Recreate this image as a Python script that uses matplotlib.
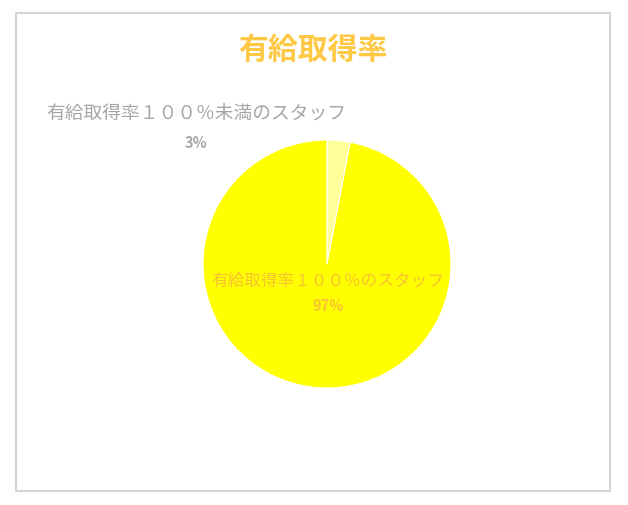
import matplotlib
matplotlib.use('Agg')
import matplotlib.pyplot as plt
from matplotlib.patches import Rectangle

plt.rcParams['font.family'] = ['Noto Sans CJK JP', 'DejaVu Sans']

# data
title = '有給取得率'
categories = ['有給取得率１００％未満のスタッフ', '有給取得率１００％のスタッフ']
values = [3, 97]
colors = ['#FFFF99', '#FFFF00']

W, H = 628, 505
fig = plt.figure(figsize=(W / 100, H / 100), dpi=100)

# chart border
fig.patches.append(Rectangle((16 / W, (H - 491) / H), 594 / W, 478 / H,
                             transform=fig.transFigure, fill=False,
                             edgecolor='#D4D4D4', linewidth=1.5))

# pie: centre (327, 264) px, radius 124 px
cx, cy, r = 327, 264, 124
ax = fig.add_axes([(cx - r) / W, (H - cy - r) / H, 2 * r / W, 2 * r / H])
ax.pie(values, colors=colors, startangle=90, counterclock=False,
       wedgeprops=dict(linewidth=0.8, edgecolor='white'))
ax.set_xlim(-1, 1)
ax.set_ylim(-1, 1)
ax.set_aspect('equal')
ax.axis('off')

fig.text(313 / W, 1 - 50 / H, title, ha='center', va='center',
         fontsize=21.5, fontweight='bold', color='#FFC845')

# labels
fig.text(196 / W, 1 - 113 / H, categories[0], ha='center', va='center',
         fontsize=13.5, color='#A6A6A6')
fig.text(196 / W, 1 - 143 / H, f'{values[0]}%', ha='center', va='center',
         fontsize=10.5, fontweight='bold', color='#A6A6A6')
fig.text(328 / W, 1 - 281 / H, categories[1], ha='center', va='center',
         fontsize=12, color='#F7C230')
fig.text(328 / W, 1 - 306 / H, f'{values[1]}%', ha='center', va='center',
         fontsize=10.5, fontweight='bold', color='#F7C230')

fig.savefig('out.png', dpi=100)
